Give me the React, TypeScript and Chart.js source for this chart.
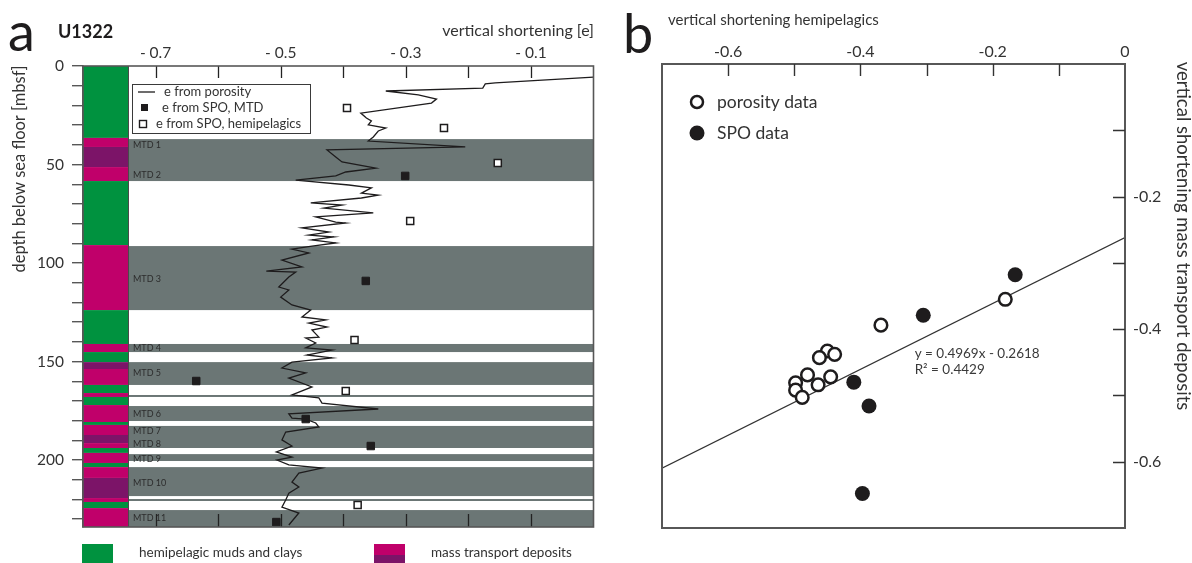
import React, { useEffect, useRef } from 'react';
import { Chart, registerables } from 'chart.js';

Chart.register(...registerables);

const FONT = 'Lato, "Open Sans", "DejaVu Sans", sans-serif';
const INK = '#1e1c1d';
const TEXT = '#333333';
const FRAME = '#575757';
const MTD_GREY = '#6b7675';
const HEMI_GREEN = '#00923f';
const MTD_MAGENTA = '#c0006a';
const MTD_PURPLE = '#7c1468';

// ---------- panel a: U1322 depth profile ----------
// vertical shortening from porosity (depth in mbsf, e)
const POROSITY_DEPTH = [
  5.6, 8.6, 9.1, 11.2, 12.7, 14.7, 16.8, 18.8, 23.9, 26.4, 27.9, 29.9, 31.5, 33.0, 36.0, 38.1,
  41.1, 42.6, 46.2, 48.7, 51.8, 53.8, 55.8, 57.9, 60.4, 61.9, 64.5, 65.5, 67.0, 69.5, 70.6, 72.1,
  74.6, 76.6, 79.2, 79.7, 82.2, 84.3, 85.8, 86.8, 88.3, 89.8, 91.4, 92.9, 94.9, 98.5, 102.0, 104.1,
  104.6, 107.1, 112.2, 113.7, 117.3, 121.3, 123.9, 127.4, 128.9, 130.5, 132.5, 134.0, 137.6, 138.1,
  140.6, 143.1, 144.2, 146.7, 148.2, 150.3, 153.3, 155.8, 158.4, 162.9, 167.0, 168.5, 171.1, 174.1,
  176.6, 178.7, 179.2, 181.2, 183.2, 185.8, 189.8, 192.9, 195.9, 198.5, 200.0, 202.5, 204.1, 206.6,
  211.2, 213.7, 216.8, 220.3, 223.9, 226.9, 233.0,
];
const POROSITY_E = [
  0.0, -0.157, -0.173, -0.177, -0.332, -0.28, -0.251, -0.259, -0.372, -0.363, -0.355, -0.36, -0.332, -0.344, -0.352, -0.36,
  -0.205, -0.426, -0.412, -0.402, -0.348, -0.396, -0.412, -0.476, -0.391, -0.355, -0.371, -0.344, -0.371, -0.452, -0.402, -0.431,
  -0.352, -0.444, -0.412, -0.396, -0.466, -0.423, -0.455, -0.415, -0.45, -0.412, -0.45, -0.482, -0.455, -0.498, -0.466, -0.523,
  -0.476, -0.487, -0.503, -0.487, -0.5, -0.482, -0.452, -0.466, -0.428, -0.455, -0.426, -0.45, -0.439, -0.46,
  -0.444, -0.46, -0.418, -0.458, -0.418, -0.482, -0.498, -0.46, -0.487, -0.45, -0.482, -0.439, -0.434, -0.344,
  -0.487, -0.482, -0.46, -0.444, -0.439, -0.492, -0.498, -0.482, -0.507, -0.482, -0.506, -0.487, -0.434, -0.471,
  -0.482, -0.471, -0.487, -0.492, -0.498, -0.471, -0.487,
];

// shortening from shape preferred orientation
const SPO_MTD_DEPTH = [55.8, 109.1, 159.9, 179.2, 192.9, 231.5];
const SPO_MTD_E = [-0.301, -0.364, -0.635, -0.46, -0.356, -0.507];
const SPO_HEMI_DEPTH = [21.3, 31.5, 49.2, 78.7, 139.1, 165.0, 222.8];
const SPO_HEMI_E = [-0.394, -0.239, -0.153, -0.293, -0.382, -0.396, -0.377];

// mass transport deposit intervals (grey bands)
const MTD_TOP = [37.1, 91.4, 141.1, 150.3, 167.0, 172.6, 182.7, 197.0, 203.6, 219.8, 225.4];
const MTD_BASE = [58.4, 123.9, 145.2, 161.9, 168.0, 180.2, 193.9, 200.5, 218.3, 220.8, 234];
const MTD_NAMES = ['MTD 1', 'MTD 2', 'MTD 3', 'MTD 4', 'MTD 5', 'MTD 6', 'MTD 7', 'MTD 8', 'MTD 9', 'MTD 10', 'MTD 11'];
const MTD_LABEL_DEPTH = [40.1, 55.3, 108.1, 143.1, 155.8, 176.6, 185.3, 191.9, 199.5, 211.7, 229.4];

// lithology column: h = hemipelagic, m = mass transport deposit, p = MTD (dark variety)
const LITHO_TOP = [0, 36.5, 41.1, 51.3, 58.4, 90.9, 123.9, 141.1, 145.2, 150.3, 153.8, 161.9, 166.0, 168.0, 172.1, 180.7, 182.2, 187.3, 191.4, 193.9, 196.4, 201.5, 203.6, 209.1, 219.3, 221.3, 224.4];
const LITHO_BASE = [36.5, 41.1, 51.3, 58.4, 90.9, 123.9, 141.1, 145.2, 150.3, 153.8, 161.9, 166.0, 168.0, 172.1, 180.7, 182.2, 187.3, 191.4, 193.9, 196.4, 201.5, 203.6, 209.1, 219.3, 221.3, 224.4, 234];
const LITHO_TYPE = ['h', 'm', 'p', 'm', 'h', 'm', 'h', 'm', 'h', 'p', 'm', 'h', 'm', 'h', 'm', 'h', 'm', 'p', 'm', 'h', 'm', 'h', 'm', 'p', 'm', 'h', 'm'];

const DEPTH_MAX = 234;
const DEPTH_TICK_MARKS = [0, 10, 20, 30, 40, 50, 60, 70, 80, 90, 100, 110, 120, 130, 140, 150, 160, 170, 180, 190, 200, 210, 220, 230];
const DEPTH_LABELS = [0, 50, 100, 150, 200];
const E_MIN = -0.816;
const E_TICK_MARKS = [-0.7, -0.6, -0.5, -0.4, -0.3, -0.2, -0.1];
const E_LABELS = [-0.7, -0.5, -0.3, -0.1];

// ---------- panel b: hemipelagic vs MTD shortening ----------
const POROSITY_HEMI = [-0.181, -0.369, -0.45, -0.439, -0.462, -0.48, -0.445, -0.498, -0.464, -0.498, -0.488];
const POROSITY_MTD = [-0.355, -0.394, -0.433, -0.438, -0.443, -0.469, -0.472, -0.481, -0.484, -0.492, -0.503];
const SPO_HEMI = [-0.166, -0.305, -0.41, -0.387, -0.397];
const SPO_MTD = [-0.318, -0.379, -0.48, -0.516, -0.648];
const FIT_SLOPE = 0.4969;
const FIT_INTERCEPT = -0.2618;
const FIT_R2 = 0.4429;
const CROSS_MIN = -0.7;
const CROSS_MAX = 0;
const CROSS_TICK_MARKS = [-0.6, -0.5, -0.4, -0.3, -0.2, -0.1];
const CROSS_X_LABELS = [-0.6, -0.4, -0.2, 0];
const CROSS_Y_LABELS = [-0.2, -0.4, -0.6];

const STRIP_W = 45;

const font = (size: number, weight = 'normal') => `${weight} ${size}px ${FONT}`;

const profileDecor = {
  id: 'profileDecor',
  beforeDatasetsDraw(chart: any) {
    const { ctx, chartArea: a, scales } = chart;
    const ys = scales.y;
    const xs = scales.x;
    ctx.save();
    // MTD bands
    ctx.fillStyle = MTD_GREY;
    MTD_TOP.forEach((t, i) => {
      const y0 = ys.getPixelForValue(t);
      const y1 = ys.getPixelForValue(MTD_BASE[i]);
      ctx.fillRect(a.left + STRIP_W, y0, a.right - a.left - STRIP_W, y1 - y0);
    });
    // lithology column
    LITHO_TOP.forEach((t, i) => {
      const y0 = ys.getPixelForValue(t);
      const y1 = ys.getPixelForValue(LITHO_BASE[i]);
      const k = LITHO_TYPE[i];
      ctx.fillStyle = k === 'h' ? HEMI_GREEN : k === 'p' ? MTD_PURPLE : MTD_MAGENTA;
      ctx.fillRect(a.left, y0, STRIP_W, y1 - y0);
    });
    ctx.strokeStyle = '#4a4a4a';
    ctx.lineWidth = 1;
    ctx.beginPath();
    ctx.moveTo(a.left + STRIP_W + 0.5, a.top);
    ctx.lineTo(a.left + STRIP_W + 0.5, a.bottom);
    ctx.stroke();
    // MTD names
    ctx.fillStyle = '#2c2c2c';
    ctx.font = font(9);
    ctx.textAlign = 'left';
    ctx.textBaseline = 'middle';
    MTD_NAMES.forEach((n, i) => {
      ctx.fillText(n, a.left + STRIP_W + 5, ys.getPixelForValue(MTD_LABEL_DEPTH[i]));
    });
    // inner tick marks, top and bottom
    ctx.strokeStyle = '#222';
    ctx.lineWidth = 1.3;
    ctx.beginPath();
    E_TICK_MARKS.forEach((v) => {
      const px = Math.round(xs.getPixelForValue(v)) + 0.5;
      ctx.moveTo(px, a.top);
      ctx.lineTo(px, a.top + 12);
      ctx.moveTo(px, a.bottom);
      ctx.lineTo(px, a.bottom - 13);
    });
    ctx.stroke();
    ctx.restore();
  },
  afterDatasetsDraw(chart: any) {
    const { ctx, chartArea: a } = chart;
    ctx.save();
    ctx.strokeStyle = FRAME;
    ctx.lineWidth = 1.6;
    ctx.strokeRect(a.left, a.top, a.right - a.left, a.bottom - a.top);

    // legend box
    const bx = 132, by = 84, bw = 178, bh = 49;
    ctx.fillStyle = '#fff';
    ctx.fillRect(bx, by, bw, bh);
    ctx.strokeStyle = '#3a3a3a';
    ctx.lineWidth = 1;
    ctx.strokeRect(bx + 0.5, by + 0.5, bw, bh);
    ctx.font = font(13);
    ctx.fillStyle = TEXT;
    ctx.textAlign = 'left';
    ctx.textBaseline = 'middle';
    ctx.strokeStyle = INK;
    ctx.lineWidth = 1.3;
    ctx.beginPath();
    ctx.moveTo(138, 92);
    ctx.lineTo(155, 92);
    ctx.stroke();
    ctx.fillText('e from porosity', 164, 92);
    ctx.fillStyle = INK;
    ctx.fillRect(141, 104, 7, 7);
    ctx.fillStyle = TEXT;
    ctx.fillText('e from SPO, MTD', 162, 108);
    ctx.fillStyle = '#fff';
    ctx.fillRect(139.5, 120.5, 7, 7);
    ctx.strokeStyle = INK;
    ctx.lineWidth = 1.4;
    ctx.strokeRect(139.5, 120.5, 7, 7);
    ctx.fillStyle = TEXT;
    ctx.fillText('e from SPO, hemipelagics', 156, 124);
    ctx.restore();
  },
  afterDraw(chart: any) {
    const { ctx } = chart;
    ctx.save();
    ctx.fillStyle = INK;
    ctx.textBaseline = 'alphabetic';
    ctx.textAlign = 'left';
    ctx.font = font(54);
    ctx.fillText('a', 8, 51);
    ctx.font = font(18, 'bold');
    ctx.fillText('U1322', 58, 38);
    ctx.font = font(16);
    ctx.fillStyle = TEXT;
    ctx.textAlign = 'right';
    ctx.fillText('vertical shortening [e]', 594, 36);

    // depth axis title
    ctx.save();
    ctx.translate(20, 169);
    ctx.rotate(-Math.PI / 2);
    ctx.textAlign = 'center';
    ctx.textBaseline = 'middle';
    ctx.font = font(16.5);
    ctx.fillText('depth below sea floor [mbsf]', 0, 0);
    ctx.restore();

    // lithology key
    ctx.fillStyle = HEMI_GREEN;
    ctx.fillRect(82, 544, 31, 19);
    ctx.fillStyle = MTD_MAGENTA;
    ctx.fillRect(374, 544, 31, 19);
    ctx.fillStyle = MTD_PURPLE;
    ctx.fillRect(374, 555, 31, 8);
    ctx.fillStyle = TEXT;
    ctx.font = font(13.5);
    ctx.textAlign = 'left';
    ctx.textBaseline = 'middle';
    ctx.fillText('hemipelagic muds and clays', 139, 553);
    ctx.fillText('mass transport deposits', 431, 553);
    ctx.restore();
  },
};

const crossDecor = {
  id: 'crossDecor',
  afterDatasetsDraw(chart: any) {
    const { ctx, chartArea: a, scales } = chart;
    const xs = scales.x;
    const ys = scales.y;
    ctx.save();
    ctx.strokeStyle = FRAME;
    ctx.lineWidth = 2;
    ctx.strokeRect(a.left, a.top, a.right - a.left, a.bottom - a.top);
    ctx.strokeStyle = '#333';
    ctx.lineWidth = 1.4;
    ctx.beginPath();
    CROSS_TICK_MARKS.forEach((v) => {
      const px = Math.round(xs.getPixelForValue(v)) + 0.5;
      ctx.moveTo(px, a.top);
      ctx.lineTo(px, a.top + 12);
      const py = Math.round(ys.getPixelForValue(v)) + 0.5;
      ctx.moveTo(a.right, py);
      ctx.lineTo(a.right - 12, py);
    });
    ctx.stroke();

    // legend
    const lx = a.left + 35;
    ctx.beginPath();
    ctx.arc(lx, 102, 6, 0, Math.PI * 2);
    ctx.fillStyle = '#fff';
    ctx.fill();
    ctx.lineWidth = 2.5;
    ctx.strokeStyle = INK;
    ctx.stroke();
    ctx.beginPath();
    ctx.arc(lx, 133, 7.5, 0, Math.PI * 2);
    ctx.fillStyle = INK;
    ctx.fill();
    ctx.fillStyle = TEXT;
    ctx.font = font(17.5);
    ctx.textAlign = 'left';
    ctx.textBaseline = 'middle';
    ctx.fillText('porosity data', lx + 20, 102);
    ctx.fillText('SPO data', lx + 20, 133);

    // regression equation
    const tx = xs.getPixelForValue(-0.318);
    const ty = ys.getPixelForValue(-0.437);
    ctx.font = font(13.5);
    ctx.fillStyle = '#3a3a3a';
    ctx.fillText(`y = ${FIT_SLOPE}x - ${Math.abs(FIT_INTERCEPT)}`, tx, ty);
    ctx.fillText(`R² = ${FIT_R2}`, tx, ty + 16);
    ctx.restore();
  },
  afterDraw(chart: any) {
    const { ctx } = chart;
    ctx.save();
    ctx.fillStyle = INK;
    ctx.textAlign = 'left';
    ctx.textBaseline = 'alphabetic';
    ctx.font = font(54);
    ctx.fillText('b', 23, 53);
    ctx.font = font(15);
    ctx.fillStyle = TEXT;
    ctx.textBaseline = 'middle';
    ctx.fillText('vertical shortening hemipelagics', 68, 20);
    ctx.save();
    ctx.translate(583, 236);
    ctx.rotate(Math.PI / 2);
    ctx.textAlign = 'center';
    ctx.font = font(18.5);
    ctx.fillText('vertical shortening mass transport deposits', 0, 0);
    ctx.restore();
    ctx.restore();
  },
};

function profileConfig(): any {
  return {
    type: 'scatter',
    data: {
      datasets: [
        {
          label: 'e from SPO, MTD',
          data: SPO_MTD_E.map((e, i) => ({ x: e, y: SPO_MTD_DEPTH[i] })),
          pointStyle: 'rect',
          pointRadius: 5.3,
          backgroundColor: INK,
          borderColor: INK,
          borderWidth: 1,
        },
        {
          label: 'e from SPO, hemipelagics',
          data: SPO_HEMI_E.map((e, i) => ({ x: e, y: SPO_HEMI_DEPTH[i] })),
          pointStyle: 'rect',
          pointRadius: 5,
          backgroundColor: '#fff',
          borderColor: INK,
          borderWidth: 1.5,
        },
        {
          label: 'e from porosity',
          data: POROSITY_E.map((e, i) => ({ x: e, y: POROSITY_DEPTH[i] })),
          showLine: true,
          pointRadius: 0,
          borderColor: INK,
          borderWidth: 1.3,
          tension: 0,
        },
      ],
    },
    options: {
      animation: false,
      responsive: false,
      maintainAspectRatio: false,
      layout: { padding: { left: 0, top: 0, right: 4, bottom: 36 } },
      plugins: { legend: { display: false }, tooltip: { enabled: false } },
      scales: {
        x: {
          type: 'linear',
          position: 'top',
          min: E_MIN,
          max: 0,
          afterFit: (s: any) => { s.height = 66; },
          afterBuildTicks: (s: any) => { s.ticks = E_LABELS.map((v) => ({ value: v })); },
          ticks: {
            callback: (v: number) => '- ' + Math.abs(v).toFixed(1),
            font: { family: FONT, size: 15.5 },
            color: TEXT,
            padding: 4,
            maxRotation: 0,
            autoSkip: false,
          },
          grid: { display: false, drawTicks: false },
          border: { display: false },
        },
        y: {
          type: 'linear',
          reverse: true,
          min: 0,
          max: DEPTH_MAX,
          afterFit: (s: any) => { s.width = 83; },
          afterBuildTicks: (s: any) => { s.ticks = DEPTH_TICK_MARKS.map((v) => ({ value: v })); },
          ticks: {
            callback: (v: number) => (DEPTH_LABELS.includes(v) ? String(v) : ''),
            font: { family: FONT, size: 15.5 },
            color: TEXT,
            padding: 8,
            autoSkip: false,
          },
          grid: { display: true, drawOnChartArea: false, drawTicks: true, tickLength: 11, color: FRAME, lineWidth: 1.4 },
          border: { display: true, color: FRAME, width: 1.5 },
        },
      },
    },
    plugins: [profileDecor],
  };
}

function crossConfig(): any {
  return {
    type: 'scatter',
    data: {
      datasets: [
        {
          label: 'SPO data',
          data: SPO_HEMI.map((x, i) => ({ x, y: SPO_MTD[i] })),
          pointStyle: 'circle',
          pointRadius: 7.5,
          backgroundColor: INK,
          borderColor: INK,
          borderWidth: 0,
        },
        {
          label: 'porosity data',
          data: POROSITY_HEMI.map((x, i) => ({ x, y: POROSITY_MTD[i] })),
          pointStyle: 'circle',
          pointRadius: 6.3,
          backgroundColor: '#fff',
          borderColor: INK,
          borderWidth: 2.5,
        },
        {
          label: 'linear fit',
          data: [CROSS_MIN, CROSS_MAX].map((x) => ({ x, y: FIT_SLOPE * x + FIT_INTERCEPT })),
          showLine: true,
          pointRadius: 0,
          borderColor: '#333',
          borderWidth: 1.2,
        },
      ],
    },
    options: {
      animation: false,
      responsive: false,
      maintainAspectRatio: false,
      layout: { padding: { left: 62, top: 0, right: 0, bottom: 35 } },
      plugins: { legend: { display: false }, tooltip: { enabled: false } },
      scales: {
        x: {
          type: 'linear',
          position: 'top',
          min: CROSS_MIN,
          max: CROSS_MAX,
          afterFit: (s: any) => { s.height = 64; },
          afterBuildTicks: (s: any) => { s.ticks = CROSS_X_LABELS.map((v) => ({ value: v })); },
          ticks: {
            callback: (v: number) => (v === 0 ? '0' : v.toFixed(1)),
            font: { family: FONT, size: 16 },
            color: TEXT,
            padding: 3,
            maxRotation: 0,
            autoSkip: false,
          },
          grid: { display: false, drawTicks: false },
          border: { display: false },
        },
        y: {
          type: 'linear',
          position: 'right',
          min: CROSS_MIN,
          max: CROSS_MAX,
          afterFit: (s: any) => { s.width = 67; },
          afterBuildTicks: (s: any) => { s.ticks = CROSS_Y_LABELS.map((v) => ({ value: v })); },
          ticks: {
            callback: (v: number) => v.toFixed(1),
            font: { family: FONT, size: 16 },
            color: TEXT,
            padding: 8,
            autoSkip: false,
          },
          grid: { display: false, drawTicks: false },
          border: { display: false },
        },
      },
    },
    plugins: [crossDecor],
  };
}

export default function App() {
  const profileRef = useRef<HTMLCanvasElement>(null);
  const crossRef = useRef<HTMLCanvasElement>(null);

  useEffect(() => {
    const profile = new Chart(profileRef.current as HTMLCanvasElement, profileConfig());
    const cross = new Chart(crossRef.current as HTMLCanvasElement, crossConfig());
    return () => {
      profile.destroy();
      cross.destroy();
    };
  }, []);

  return (
    <div style={{ position: 'absolute', left: 0, top: 0, width: 1192, height: 563, background: '#fff', overflow: 'hidden' }}>
      <canvas ref={profileRef} width={600} height={563} style={{ position: 'absolute', left: 0, top: 0, width: 600, height: 563 }} />
      <canvas ref={crossRef} width={592} height={563} style={{ position: 'absolute', left: 600, top: 0, width: 592, height: 563 }} />
    </div>
  );
}
